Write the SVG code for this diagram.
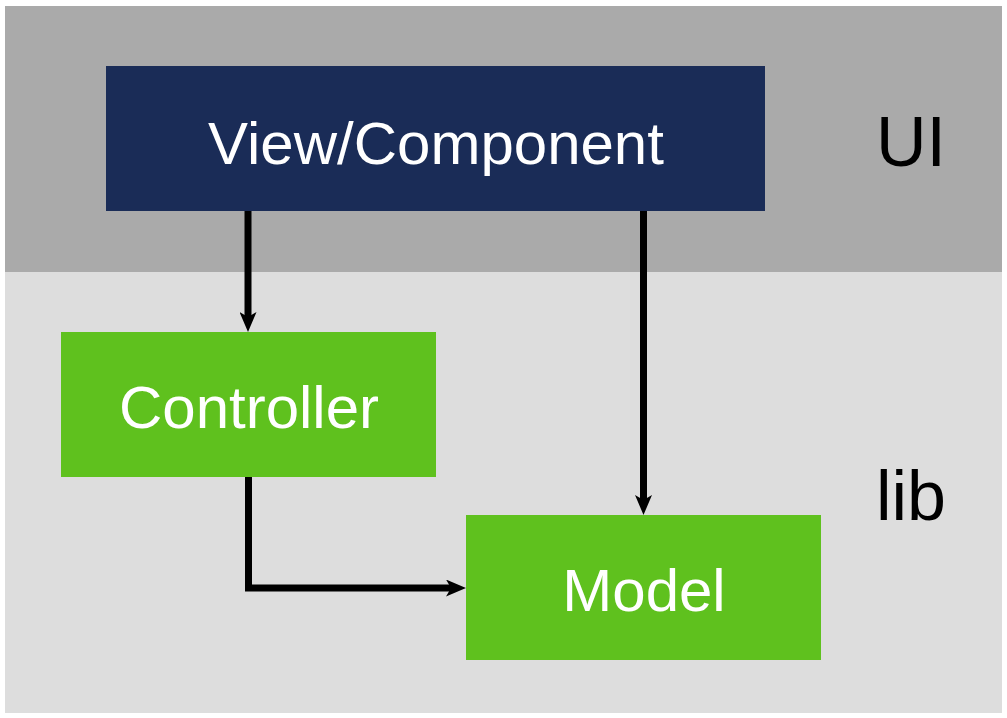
<svg xmlns="http://www.w3.org/2000/svg" width="1007" height="718" viewBox="0 0 1007 718">
<defs>
<style>
.lbl{font-family:"Liberation Sans",Arial,sans-serif;fill:#ffffff;font-size:60px;text-anchor:middle}
.side{font-family:"Liberation Sans",Arial,sans-serif;fill:#000000;font-size:70px;text-anchor:middle}
.conn{fill:none;stroke:#000000;stroke-width:7;marker-end:url(#ah)}
</style>
<marker id="ah" viewBox="0 0 20 17" refX="5" refY="8.5" markerWidth="20" markerHeight="17" markerUnits="userSpaceOnUse" orient="auto">
<path d="M0,0 L20,8.5 L0,17 L5,8.5 z" fill="#000000"/>
</marker>
</defs>
<rect x="0" y="0" width="1007" height="718" fill="#ffffff"/>
<g id="layer-ui">
<rect x="5" y="6" width="997" height="266" fill="#aaaaaa"/>
<text class="side" x="911" y="166">UI</text>
</g>
<g id="layer-lib">
<rect x="5" y="272" width="997" height="441" fill="#dddddd"/>
<text class="side" x="911" y="520">lib</text>
</g>
<g id="connectors">
<path class="conn" d="M248,211 L248,317"/>
<path class="conn" d="M643.5,211 L643.5,500"/>
<path class="conn" d="M248.5,477 L248.5,588 L451,588"/>
</g>
<g id="view">
<rect x="106" y="66" width="659" height="145" fill="#1a2c57"/>
<text class="lbl" x="436" y="164">View/Component</text>
</g>
<g id="controller">
<rect x="61" y="332" width="375" height="145" fill="#5fc11e"/>
<text class="lbl" x="249" y="428">Controller</text>
</g>
<g id="model">
<rect x="466" y="515" width="355" height="145" fill="#5fc11e"/>
<text class="lbl" x="644" y="611">Model</text>
</g>
</svg>
